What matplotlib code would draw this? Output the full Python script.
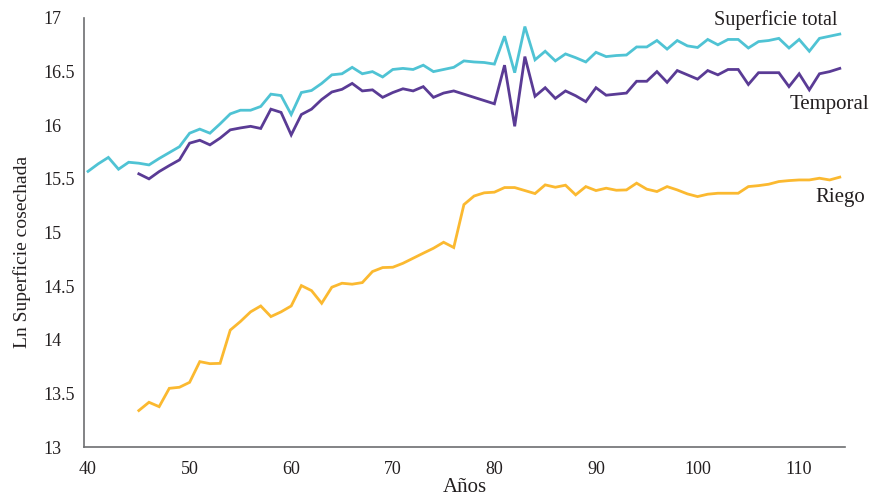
import numpy as np
import matplotlib
matplotlib.use("Agg")
import matplotlib.pyplot as plt

# años (19xx, 100+ = 20xx)
anios_total = list(range(40, 115))
anios_45 = list(range(45, 115))

sup_total = [15.57, 15.64, 15.70, 15.59, 15.655, 15.646, 15.63, 15.69, 15.745, 15.80,
             15.926, 15.964, 15.926, 16.013, 16.106, 16.14, 16.14, 16.175, 16.29, 16.277,
             16.10, 16.305, 16.324, 16.39, 16.47, 16.48, 16.54, 16.48, 16.50, 16.45,
             16.52, 16.53, 16.52, 16.56, 16.50, 16.52, 16.54, 16.60, 16.59, 16.585,
             16.57, 16.83, 16.49, 16.92, 16.61, 16.69, 16.60, 16.665, 16.63, 16.59,
             16.68, 16.64, 16.65, 16.655, 16.73, 16.73, 16.79, 16.71, 16.79, 16.74,
             16.725, 16.80, 16.75, 16.80, 16.80, 16.72, 16.78, 16.79, 16.81, 16.72,
             16.80, 16.69, 16.81, 16.83, 16.85]

temporal = [15.547, 15.50, 15.568, 15.624, 15.677, 15.833, 15.86, 15.817, 15.88, 15.957,
            15.975, 15.99, 15.97, 16.15, 16.12, 15.91, 16.10, 16.15, 16.24, 16.31,
            16.335, 16.39, 16.32, 16.33, 16.26, 16.305, 16.34, 16.32, 16.36, 16.26,
            16.30, 16.32, 16.29, 16.26, 16.23, 16.20, 16.56, 15.99, 16.64, 16.27,
            16.35, 16.25, 16.32, 16.275, 16.22, 16.35, 16.28, 16.29, 16.30, 16.41,
            16.41, 16.50, 16.40, 16.51, 16.47, 16.43, 16.51, 16.47, 16.52, 16.52,
            16.38, 16.49, 16.49, 16.49, 16.36, 16.48, 16.33, 16.48, 16.50, 16.53]

riego = [13.34, 13.417, 13.376, 13.547, 13.557, 13.603, 13.796, 13.777, 13.78, 14.09,
         14.17, 14.26, 14.315, 14.216, 14.26, 14.315, 14.505, 14.458, 14.34, 14.49,
         14.527, 14.518, 14.533, 14.636, 14.673, 14.676, 14.713, 14.76, 14.807, 14.853,
         14.909, 14.86, 15.26, 15.34, 15.37, 15.376, 15.419, 15.419, 15.391, 15.363,
         15.444, 15.422, 15.441, 15.351, 15.428, 15.391, 15.413, 15.394, 15.397, 15.46,
         15.404, 15.382, 15.428, 15.397, 15.36, 15.335, 15.357, 15.366, 15.366, 15.366,
         15.428, 15.437, 15.45, 15.475, 15.484, 15.49, 15.49, 15.506, 15.49, 15.516]

x_ticks = [40, 50, 60, 70, 80, 90, 100, 110]
y_ticks = [13, 13.5, 14, 14.5, 15, 15.5, 16, 16.5, 17]

plt.rcParams['font.family'] = ['Liberation Serif', 'DejaVu Serif']
texto = '#231f20'

fig = plt.figure(figsize=(8.71, 4.97), dpi=100)
ax = fig.add_axes([0.0964, 0.1006, 0.8736, 0.8632])

ax.plot(anios_total, sup_total, color='#4fc3d4', lw=2.0, solid_joinstyle='miter')
ax.plot(anios_45, temporal, color='#5a3b95', lw=2.0, solid_joinstyle='miter')
ax.plot(anios_45, riego, color='#fbb930', lw=2.0, solid_joinstyle='miter')

ax.set_xlim(39.6, 114.5)
ax.set_ylim(13, 17)
ax.set_xticks(x_ticks)
ax.set_yticks(y_ticks)
ax.set_yticklabels([('%g' % v) for v in y_ticks])
ax.tick_params(length=0, labelsize=13, colors=texto, pad=10)
# etiquetas del eje y alineadas a la izquierda
ax.tick_params(axis='y', pad=29.5)
for lbl in ax.get_yticklabels():
    lbl.set_horizontalalignment('left')

for s in ['top', 'right']:
    ax.spines[s].set_visible(False)
for s in ['left', 'bottom']:
    ax.spines[s].set_color('#6d6e71')
    ax.spines[s].set_linewidth(1.2)

ax.set_xlabel('Años', fontsize=15, color=texto, labelpad=0)
ax.set_ylabel('Ln Superficie cosechada', fontsize=14, color=texto)
ax.yaxis.set_label_coords(-0.082, 0.455)
ax.yaxis.label.set_verticalalignment('center')

ax.text(107.7, 16.98, 'Superficie total', fontsize=14.5, color=texto, ha='center', va='center')
ax.text(113.0, 16.19, 'Temporal', fontsize=15, color=texto, ha='center', va='center')
ax.text(114.0, 15.33, 'Riego', fontsize=15, color=texto, ha='center', va='center')

fig.savefig('out.png', dpi=100)
